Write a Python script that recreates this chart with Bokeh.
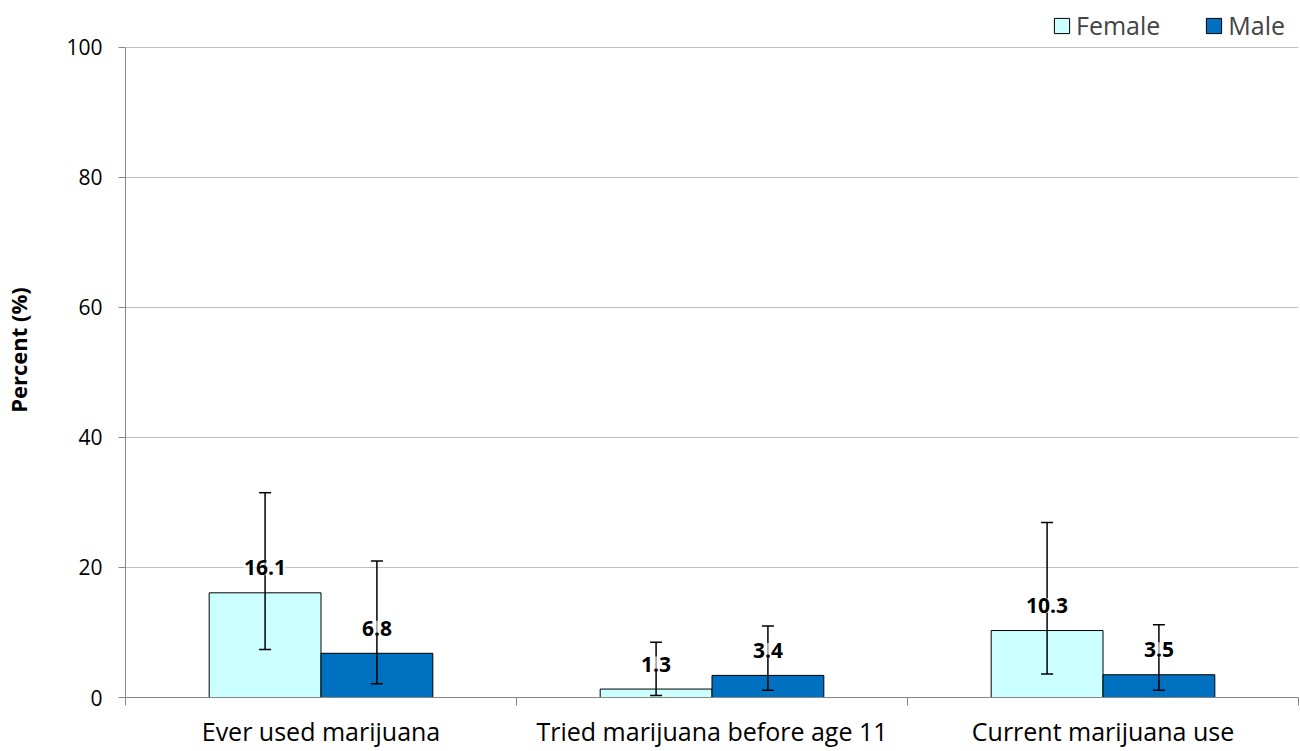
from bokeh.plotting import figure
from bokeh.models import (ColumnDataSource, FixedTicker, Whisker, TeeHead, LabelSet,
                          Legend, LegendItem, Range1d)
from bokeh.core.properties import value
from bokeh.embed import file_html
from bokeh.resources import INLINE

categories = ["Ever used marijuana", "Tried marijuana before age 11", "Current marijuana use"]
female = [16.1, 1.3, 10.3]
male = [6.8, 3.4, 3.5]
female_lo = [7.4, 0.3, 3.6]
female_hi = [31.5, 8.5, 26.9]
male_lo = [2.1, 1.1, 1.1]
male_hi = [21.0, 11.0, 11.2]
y_ticks = [0, 20, 40, 60, 80, 100]

FONT = "Open Sans"
BW = 0.286
idx = list(range(len(categories)))
fx = [i + 0.5 - BW / 2 for i in idx]
mx = [i + 0.5 + BW / 2 for i in idx]

src_f = ColumnDataSource(dict(x=fx, top=female, lo=female_lo, hi=female_hi,
                              lab=[f"{v:.1f}" for v in female]))
src_m = ColumnDataSource(dict(x=mx, top=male, lo=male_lo, hi=male_hi,
                              lab=[f"{v:.1f}" for v in male]))

p = figure(width=1300, height=750, output_backend="svg", toolbar_location=None,
           x_range=Range1d(0, 3), y_range=Range1d(0, 106.9),
           min_border_left=125, min_border_right=2, min_border_top=2, min_border_bottom=53)
p.outline_line_color = None
p.background_fill_color = "white"

rf = p.vbar(x="x", top="top", width=BW, source=src_f, fill_color="#CCFFFF",
            line_color="black", line_width=1)
rm = p.vbar(x="x", top="top", width=BW, source=src_m, fill_color="#0070C0",
            line_color="black", line_width=1)

for src in (src_f, src_m):
    w = Whisker(source=src, base="x", lower="lo", upper="hi", line_color="black",
                line_width=1.5, level="annotation",
                upper_head=TeeHead(size=12, line_color="black", line_width=1.5),
                lower_head=TeeHead(size=12, line_color="black", line_width=1.5))
    p.add_layout(w)
    ls = LabelSet(source=src, x="x", y="top", text="lab", y_offset=25,
                  text_align="center", text_baseline="middle",
                  text_font=value(FONT), text_font_size=value("21px"),
                  text_font_style=value("bold"),
                  text_color=value("black"), background_fill_color=value("white"),
                  background_fill_alpha=0.6, level="overlay")
    p.add_layout(ls)

# x axis
p.xaxis.ticker = FixedTicker(ticks=[i + 0.5 for i in idx], minor_ticks=[0, 1, 2, 3])
p.xaxis.major_label_overrides = {i + 0.5: c for i, c in zip(idx, categories)}
p.xaxis.major_tick_line_color = None
p.xaxis.major_tick_out = 0
p.xaxis.major_tick_in = 0
p.xaxis.minor_tick_line_color = "#868686"
p.xaxis.minor_tick_out = 8
p.xaxis.minor_tick_in = 0
p.xaxis.axis_line_color = "#868686"
p.xaxis.major_label_text_font = FONT
p.xaxis.major_label_text_font_size = "25px"
p.xaxis.major_label_text_color = "black"
p.xaxis.major_label_standoff = 8
p.xgrid.grid_line_color = None

# y axis
p.yaxis.ticker = FixedTicker(ticks=y_ticks)
p.yaxis.bounds = (0, 100)
p.yaxis.minor_tick_line_color = None
p.yaxis.major_tick_line_color = "#868686"
p.yaxis.major_tick_out = 7
p.yaxis.major_tick_in = 0
p.yaxis.axis_line_color = "#868686"
p.yaxis.major_label_text_font = FONT
p.yaxis.major_label_text_font_size = "21px"
p.yaxis.major_label_text_color = "black"
p.yaxis.major_label_standoff = 16
p.yaxis.axis_label = "Percent (%)"
p.yaxis.axis_label_text_font = FONT
p.yaxis.axis_label_text_font_size = "22px"
p.yaxis.axis_label_text_font_style = "bold"
p.yaxis.axis_label_text_color = "black"
p.yaxis.axis_label_standoff = 30
p.ygrid.grid_line_color = "#BFBFBF"
p.ygrid.grid_line_width = 1

legend = Legend(items=[LegendItem(label="Female", renderers=[rf]),
                       LegendItem(label="Male", renderers=[rm])],
                orientation="horizontal", location=(927, 655),
                label_text_font=FONT, label_text_font_size="25px",
                glyph_width=19, glyph_height=19, label_standoff=5, spacing=44,
                padding=0, margin=0, border_line_color=None,
                background_fill_alpha=0)
p.add_layout(legend)

open("out.html", "w").write(file_html(p, INLINE))
